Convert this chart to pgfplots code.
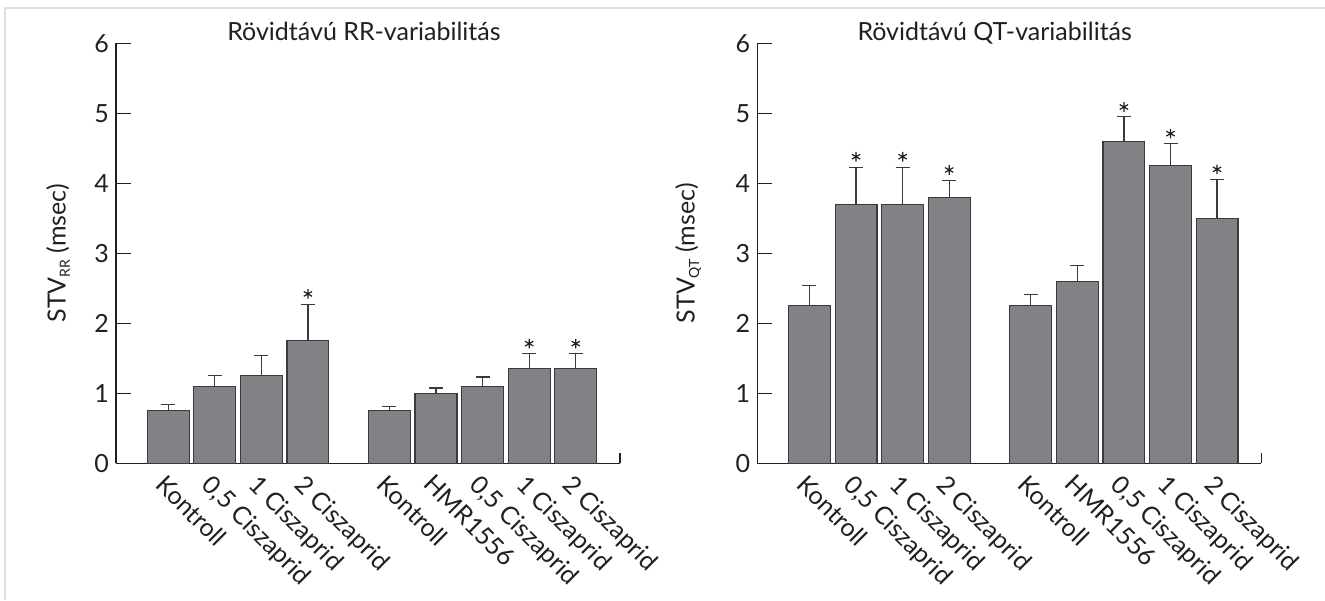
\documentclass[border=0pt]{standalone}
\usepackage{pgfplots}
\pgfplotsset{compat=1.18}
\usepackage{fontspec}
\setmainfont{Lato}
\definecolor{barfill}{HTML}{808285}
\definecolor{bardraw}{HTML}{3A3A3C}
\definecolor{txt}{HTML}{231F20}
\pgfplotsset{
  mystyle/.style={
    scale only axis, width=252pt, height=210pt, anchor=south west,
    clip=false,
    xmin=-1.12, xmax=9.7, ymin=0, ymax=6,
    axis x line=bottom, axis y line=left,
    axis line style={-, draw=txt, line width=0.6pt},
    ytick={0,1,2,3,4,5,6},
    tick align=inside, major tick length=7.5pt,
    ytick style={draw=txt, line width=0.6pt},
    xtick={0,1,2,3,4.75,5.75,6.75,7.75,8.75},
    xtick style={draw=none},
    xticklabels={Kontroll,{0,5 Ciszaprid},1 Ciszaprid,2 Ciszaprid,Kontroll,HMR1556,{0,5 Ciszaprid},1 Ciszaprid,2 Ciszaprid},
    /pgf/number format/assume math mode=true,
    yticklabel style={font=\fontsize{12.5}{12.5}\selectfont, text=txt},
    xticklabel style={xshift=-0.5pt, yshift=0pt, rotate=-45, anchor=north west, font=\fontsize{12.5}{12.5}\selectfont, text=txt},
    title style={anchor=base, yshift=-4.35pt, font=\fontsize{12.5}{12.5}\selectfont, text=txt},
    ylabel style={anchor=center, font=\fontsize{12.5}{12.5}\selectfont, text=txt},
  },
  mybar/.style={ybar, bar width=0.9, fill=barfill, draw=bardraw, line width=0.6pt,
    error bars/.cd, y dir=plus, y explicit,
    error bar style={draw=bardraw, line width=0.6pt},
    error mark options={rotate=90, mark size=3.5pt, line width=0.6pt, draw=bardraw}},
  mystar/.style={only marks, mark=asterisk, mark size=2.4pt, mark options={line width=0.6pt, draw=txt}},
}
\begin{document}
\begin{tikzpicture}
\path[use as bounding box] (0,0) rectangle (662.5pt,300pt);
\draw[black!12, line width=1pt] (2.5pt,0) -- (2.5pt,296pt) -- (662.5pt,296pt);

\begin{axis}[mystyle, at={(58pt,68.35pt)},
  title={Rövidtávú RR-variabilitás},
  title style={at={(axis description cs:0.492,1)}},
  ylabel={STV\raisebox{-0.35ex}{\fontsize{7}{7}\selectfont RR} (msec)},
  ylabel style={at={(axis description cs:-0.115,0.5)}}]
\addplot[mybar] coordinates {
 (0,0.75) +- (0,0.085)
 (1,1.10) +- (0,0.156)
 (2,1.25) +- (0,0.29)
 (3,1.75) +- (0,0.52)
 (4.75,0.75) +- (0,0.065)
 (5.75,1.00) +- (0,0.076)
 (6.75,1.10) +- (0,0.132)
 (7.75,1.35) +- (0,0.214)
 (8.75,1.35) +- (0,0.214)
};
\addplot[mystar] coordinates {(3,2.42) (7.75,1.71) (8.75,1.71)};
\draw[txt, line width=0.6pt] (rel axis cs:1,0) -- ++(0pt,5pt);
\end{axis}

\begin{axis}[mystyle, at={(378.65pt,68.35pt)},
  title={Rövidtávú QT-variabilitás},
  title style={at={(axis description cs:0.471,1)}},
  ylabel={STV\raisebox{-0.35ex}{\fontsize{7}{7}\selectfont QT} (msec)},
  ylabel style={at={(axis description cs:-0.137,0.5)}}]
\addplot[mybar] coordinates {
 (0,2.25) +- (0,0.29)
 (1,3.70) +- (0,0.53)
 (2,3.70) +- (0,0.53)
 (3,3.80) +- (0,0.24)
 (4.75,2.25) +- (0,0.16)
 (5.75,2.60) +- (0,0.23)
 (6.75,4.60) +- (0,0.355)
 (7.75,4.25) +- (0,0.32)
 (8.75,3.50) +- (0,0.56)
};
\addplot[mystar] coordinates {(1,4.38) (2,4.38) (3,4.19) (6.75,5.09) (7.75,4.71) (8.75,4.20)};
\draw[txt, line width=0.6pt] (rel axis cs:1,0) -- ++(0pt,5pt);
\end{axis}
\end{tikzpicture}
\end{document}
